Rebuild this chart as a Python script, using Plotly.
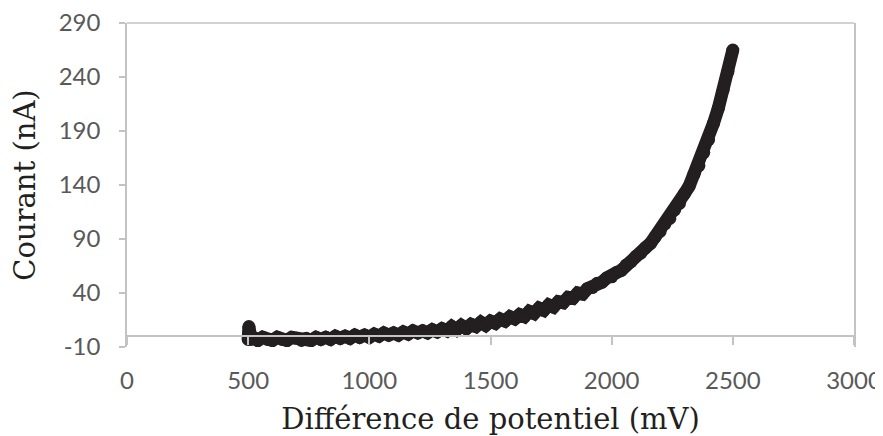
import plotly.graph_objects as go

# Potential difference (mV)
voltage_mv = [500, 503, 506, 512, 520, 540, 560, 580, 600, 620, 640, 660, 680, 700, 720, 740, 760, 780,
              800, 820, 840, 860, 880, 900, 920, 940, 960, 980, 1000, 1020, 1040, 1060, 1080,
              1100, 1120, 1140, 1160, 1180, 1200, 1220, 1240, 1260, 1280, 1300, 1320, 1340,
              1360, 1380, 1400, 1420, 1440, 1460, 1480, 1500, 1520, 1540, 1560, 1580, 1600,
              1620, 1640, 1660, 1680, 1700, 1720, 1740, 1760, 1780, 1800, 1820, 1840, 1860,
              1880, 1900, 1920, 1940, 1960, 1980, 2000, 2020, 2040, 2060, 2080, 2100, 2120,
              2140, 2160, 2180, 2200, 2220, 2240, 2260, 2280, 2300, 2320, 2340, 2360, 2380,
              2400, 2420, 2440, 2460, 2480, 2500]

# Current (nA)
current_na = [-3, 9, 4, -3, -1, -4, -1, -3, -4, -1, -3, -4, -1, -2, -4, -2, -4, -1,
              -3, -1, -3, 0, -2, 0, -2, 1, -1, 1, -1, 2, 0, 3, 1,
              3, 1, 4, 2, 5, 3, 5, 3, 6, 4, 7, 5, 9,
              6, 10, 7, 11, 9, 13, 10, 14, 12, 16, 14, 18, 16,
              20, 18, 23, 21, 26, 24, 29, 27, 32, 31, 36, 35, 40,
              39, 44, 45, 49, 50, 54, 55, 59, 61, 66, 69, 74, 77,
              82, 86, 92, 97, 104, 109, 117, 123, 132, 139, 150, 158, 170,
              182, 197, 211, 228, 245, 265]

x_ticks = [0, 500, 1000, 1500, 2000, 2500, 3000]
y_ticks = [-10, 40, 90, 140, 190, 240, 290]

axis_grey = "#c3c3c3"
tick_font = dict(family="Lato, sans-serif", size=24, color="#595959")
title_font = dict(family="DejaVu Serif, serif", size=29, color="#231f20")

fig = go.Figure()
fig.add_trace(go.Scatter(
    x=voltage_mv, y=current_na, mode="lines+markers",
    line=dict(color="#231f20", width=13),
    marker=dict(color="#231f20", size=13),
    showlegend=False, hoverinfo="skip",
))

# top border of the plot frame
fig.add_shape(type="line", xref="paper", yref="paper", x0=0, x1=1, y0=1, y1=1,
              line=dict(color=axis_grey, width=1.5))

# the page body adds an 8 px offset, so the figure is 8 px smaller than the window
fig.update_layout(
    width=875, height=428,
    margin=dict(l=119, r=29, t=15, b=89),
    paper_bgcolor="white", plot_bgcolor="white",
    xaxis=dict(
        range=[0, 3000], tickvals=x_ticks, ticktext=[str(v) for v in x_ticks],
        showgrid=False, zeroline=False, automargin=False,
        showline=True, linecolor=axis_grey, linewidth=1.5,
        ticks="outside", ticklen=8, tickcolor=axis_grey, tickwidth=1.5,
        tickfont=tick_font, ticklabelstandoff=15, ticklabeloverflow="allow",
        anchor="free", position=10 / 300,
        title=dict(text="Différence de potentiel (mV)", font=title_font, standoff=37),
    ),
    yaxis=dict(
        range=[-10, 290], tickvals=y_ticks, ticktext=[str(v) for v in y_ticks],
        showgrid=False, zeroline=False, automargin=False,
        showline=True, linecolor=axis_grey, linewidth=1.5, mirror=True,
        ticks="outside", ticklen=6, tickcolor=axis_grey, tickwidth=1.5,
        tickfont=tick_font, ticklabelstandoff=14, ticklabeloverflow="allow",
        title=dict(text="Courant (nA)", font=title_font, standoff=15),
    ),
)

fig.write_html("out.html")
